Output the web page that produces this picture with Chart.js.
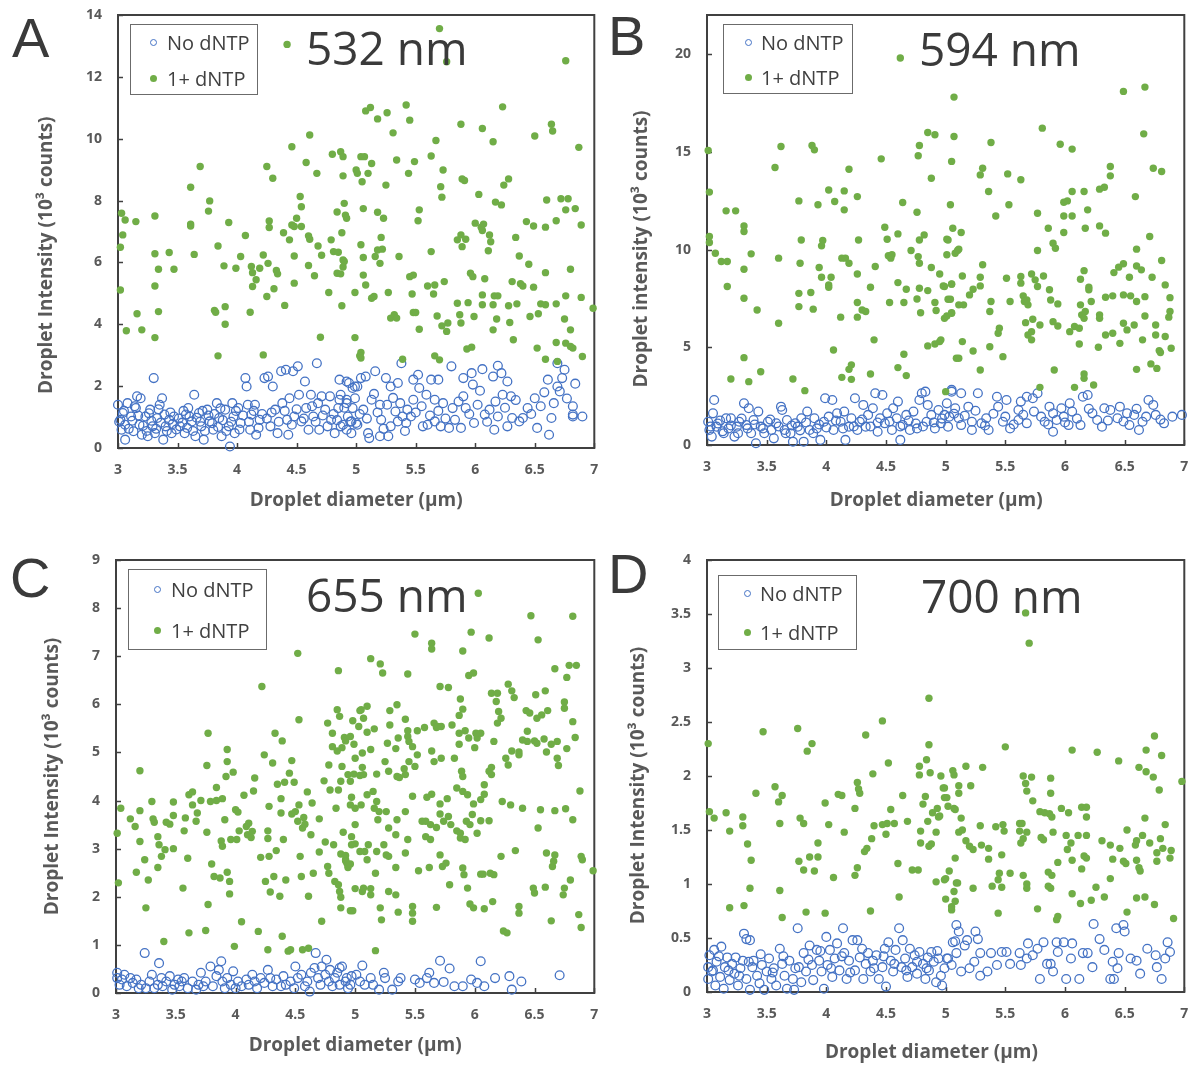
<!DOCTYPE html>
<html>
<head>
<meta charset="utf-8">
<script src="https://cdn.jsdelivr.net/npm/chart.js@4.4.1/dist/chart.umd.min.js"></script>
<style>
  body { margin: 0; background: #fff; }
  #wrap { position: relative; width: 1198px; height: 1068px; background: #fff; overflow: hidden; }
  canvas { position: absolute; }
  .letter { position: absolute; font-family: 'Liberation Sans', Arial, sans-serif; font-size: 56px; line-height: 56px; color: #3a3a3a; }
  .nm { position: absolute; font-family: 'Open Sans', sans-serif; font-size: 46px; line-height: 46px; color: #3a3a3a; white-space: nowrap; }
  .legend { position: absolute; border: 1.5px solid #6b6b6b; box-sizing: border-box; }
  .row { position: absolute; font-family: 'Open Sans', sans-serif; font-size: 20px; line-height: 20px; color: #404040; white-space: nowrap; }
  .mk { position: absolute; border-radius: 50%; box-sizing: border-box; }
  .mk.blue { width: 7px; height: 7px; border: 1.2px solid #4472C4; }
  .mk.green { width: 7px; height: 7px; background: #70AD47; }
</style>
</head>
<body>
<div id="wrap">
  <canvas id="cA" width="600" height="520" style="left:0;top:0"></canvas>
  <canvas id="cB" width="600" height="520" style="left:590px;top:0"></canvas>
  <canvas id="cC" width="600" height="520" style="left:0;top:545px"></canvas>
  <canvas id="cD" width="600" height="520" style="left:590px;top:545px"></canvas>

  <div class="letter" style="left:12px;top:10px">A</div>
  <div class="letter" style="left:608px;top:8px">B</div>
  <div class="letter" style="left:10px;top:550px">C</div>
  <div class="letter" style="left:608px;top:546px">D</div>

  <div class="nm" style="left:306px;top:24px">532 nm</div>
  <div class="nm" style="left:919px;top:25px">594 nm</div>
  <div class="nm" style="left:306px;top:571px">655 nm</div>
  <div class="nm" style="left:921px;top:572px">700 nm</div>

  <div class="legend" style="left:130px;top:24px;width:128px;height:71px">
    <div class="mk blue" style="left:19px;top:14px"></div><div class="row" style="left:36px;top:8px">No dNTP</div>
    <div class="mk green" style="left:19px;top:50px"></div><div class="row" style="left:36px;top:44px">1+ dNTP</div>
  </div>
  <div class="legend" style="left:723px;top:24px;width:130px;height:70px">
    <div class="mk blue" style="left:21px;top:14px"></div><div class="row" style="left:37px;top:8px">No dNTP</div>
    <div class="mk green" style="left:21px;top:49px"></div><div class="row" style="left:37px;top:43px">1+ dNTP</div>
  </div>
  <div class="legend" style="left:128px;top:569px;width:139px;height:81px">
    <div class="mk blue" style="left:25px;top:16px"></div><div class="row" style="left:42px;top:10px">No dNTP</div>
    <div class="mk green" style="left:25px;top:57px"></div><div class="row" style="left:42px;top:51px">1+ dNTP</div>
  </div>
  <div class="legend" style="left:718px;top:575px;width:139px;height:75px">
    <div class="mk blue" style="left:25px;top:14px"></div><div class="row" style="left:41px;top:8px">No dNTP</div>
    <div class="mk green" style="left:25px;top:53px"></div><div class="row" style="left:41px;top:47px">1+ dNTP</div>
  </div>
</div>

<script>
// ---- data: [diameter (um), intensity (10^3 counts)] ----

const greenA = [[3.03,7.59],[3.04,6.89],[3.06,7.37],[3.02,6.49],[3.02,5.11],[3.07,3.79],[3.15,7.32],[3.16,4.34],[3.2,3.82],[3.31,7.5],[3.31,6.28],[3.34,5.78],[3.31,5.24],[3.34,4.41],[3.31,3.57],[3.43,6.32],[3.47,5.78],[3.61,8.43],[3.61,7.24],[3.61,7.18],[3.64,6.26],[3.69,9.1],[3.77,7.99],[3.76,7.66],[3.84,6.53],[3.81,4.45],[3.82,4.39],[3.84,2.98],[3.89,5.89],[3.9,4.57],[3.9,4.0],[3.93,7.29],[3.99,5.81],[4.03,6.19],[4.07,6.87],[4.11,4.39],[4.12,5.87],[4.13,5.67],[4.13,5.22],[4.16,5.44],[4.19,5.81],[4.22,6.24],[4.22,3.01],[4.25,9.1],[4.25,4.9],[4.26,5.97],[4.27,7.34],[4.27,7.13],[4.3,8.72],[4.31,5.15],[4.33,5.74],[4.34,5.63],[4.39,6.96],[4.4,4.61],[4.44,6.73],[4.46,9.74],[4.46,7.21],[4.48,7.16],[4.48,6.21],[4.48,5.33],[4.5,7.43],[4.53,8.13],[4.54,7.8],[4.54,7.16],[4.58,9.23],[4.61,10.12],[4.6,6.86],[4.61,6.75],[4.6,5.9],[4.65,5.57],[4.67,8.88],[4.68,6.53],[4.7,3.58],[4.71,6.23],[4.77,5.03],[4.79,6.73],[4.8,9.5],[4.81,6.35],[4.84,7.63],[4.85,6.33],[4.84,5.65],[4.87,9.58],[4.88,6.96],[4.88,4.6],[4.89,9.42],[4.89,8.8],[4.87,5.63],[4.89,5.85],[4.91,7.53],[4.92,7.43],[4.9,6.03],[4.99,3.57],[4.99,5.03],[5.0,8.99],[4.42,13.05],
  [5.7,13.56],[5.76,12.49],[6.76,12.52],[5.08,10.9],[5.12,11.01],[5.18,10.64],[5.26,10.84],[5.42,11.09],[5.45,10.6],[5.31,10.19],[6.23,11.03],[5.88,10.47],[6.06,10.33],[6.15,9.9],[5.67,9.94],[6.5,10.09],[6.64,10.47],[6.65,10.25],[6.87,9.72],[5.04,9.42],[5.07,9.42],[5.13,9.2],[5.34,9.31],[5.49,9.26],[5.44,8.88],[5.63,9.44],[5.01,8.88],[5.05,8.61],[5.1,8.88],[5.25,8.5],[5.73,8.99],[5.71,8.45],[5.72,8.11],[5.89,8.7],[5.91,8.65],[6.03,8.2],[6.24,8.5],[6.28,8.7],[6.17,7.95],[6.22,7.86],[6.6,8.02],[6.72,8.06],[6.78,8.06],[6.76,7.7],[6.84,7.74],[6.89,7.21],[4.9,7.91],[5.06,7.74],[5.18,7.62],[5.23,7.43],[5.53,7.7],[5.52,7.35],[6.0,7.27],[6.05,7.14],[6.07,7.24],[6.06,7.03],[5.85,6.73],[5.88,6.89],[5.92,6.75],[5.89,6.51],[6.12,6.89],[6.13,6.67],[6.11,6.38],[6.43,7.32],[6.49,7.18],[6.59,7.14],[6.68,7.35],[6.34,6.81],[5.04,6.57],[5.21,6.81],[5.18,6.4],[5.16,6.19],[5.22,6.43],[5.2,5.97],[5.36,6.19],[5.63,6.35],[4.89,6.08],[5.06,6.16],[5.06,5.59],[5.08,5.27],[6.37,6.21],[6.45,5.94],[6.59,5.67],[6.8,5.78],[5.96,5.65],[5.98,5.54],[6.08,5.47],[6.31,5.38],[6.38,5.31],[6.4,5.24],[6.49,5.2],[5.45,5.54],[5.48,5.59],[5.6,5.24],[5.66,5.27],[5.74,5.38],[5.65,4.98],[5.27,5.03],[5.47,4.98],[5.13,4.84],[5.15,4.9],[5.85,4.68],[5.94,4.7],[6.06,4.95],[6.06,4.63],[6.16,4.92],[6.19,4.92],[6.15,4.63],[6.28,4.6],[6.35,4.66],[6.55,4.66],[6.59,4.63],[6.68,4.66],[6.76,4.92],[6.89,4.87],[6.99,4.52],[5.29,4.2],[5.32,4.31],[5.34,4.2],[5.48,4.38],[5.5,4.38],[5.68,4.27],[5.87,4.31],[5.99,4.25],[6.18,4.17],[6.29,4.06],[6.46,4.25],[6.53,4.34],[6.75,4.17],[5.53,3.84],[5.72,3.95],[5.77,4.04],[5.76,3.77],[5.88,4.04],[6.15,3.82],[6.8,3.82],[6.32,3.5],[6.68,3.41],[6.76,3.39],[6.8,3.28],[6.82,3.23],[5.93,3.2],[5.97,3.26],[6.52,3.23],[6.9,2.96],[5.04,3.09],[5.03,2.98],[5.04,2.91],[5.39,2.87],[5.66,2.98],[5.7,2.85],[6.59,2.87],[6.69,2.8]];

const blueA = [[3.0,1.4],[3.02,0.91],[3.03,0.59],[3.04,1.13],[3.06,0.27],[3.06,0.75],[3.08,1.45],[3.11,1.02],[3.13,0.54],[3.15,1.29],[3.16,1.67],[3.18,0.75],[3.19,1.61],[3.2,0.43],[3.23,1.02],[3.25,0.38],[3.27,1.24],[3.29,0.7],[3.3,2.26],[3.31,0.48],[3.33,0.97],[3.35,1.4],[3.37,1.61],[3.38,0.27],[3.4,0.7],[3.43,0.91],[3.45,0.48],[3.47,1.02],[3.52,0.7],[3.56,0.48],[3.57,1.08],[3.59,1.29],[3.62,0.86],[3.64,1.72],[3.65,0.38],[3.68,1.13],[3.7,0.7],[3.72,0.27],[3.75,1.24],[3.77,0.86],[3.8,0.59],[3.83,1.45],[3.85,0.97],[3.87,0.38],[3.9,1.24],[3.93,0.7],[3.94,0.05],[3.96,1.45],[3.97,1.02],[3.98,0.48],[4.01,1.29],[4.03,0.81],[4.07,2.26],[4.08,1.99],[4.09,1.4],[4.11,0.59],[4.12,1.08],[4.15,1.4],[4.16,0.43],[4.19,0.91],[4.23,2.26],[4.26,2.31],[4.28,0.7],[4.3,1.99],[4.32,1.24],[4.34,0.48],[4.37,2.48],[4.38,1.45],[4.41,2.53],[4.42,0.91],[4.43,0.43],[4.44,1.61],[4.47,2.48],[4.48,1.02],[4.51,2.64],[4.52,1.72],[4.54,0.86],[4.57,2.15],[4.58,1.29],[4.6,0.59],[4.62,1.72],[4.64,1.02],[4.67,2.74],[4.68,1.45],[4.69,0.59],[4.71,1.67],[4.74,1.24],[4.78,1.67],[4.79,0.91],[4.82,0.48],[4.85,1.29],[4.86,2.21],[4.87,1.72],[4.89,0.75],[4.92,1.56],[4.93,1.02],[4.94,2.1],[4.96,0.48],[4.97,1.29],[4.99,1.99],[5.0,0.81],
  [3.01,0.85],[3.05,1.2],[3.09,0.62],[3.12,0.88],[3.14,1.35],[3.17,1.05],[3.21,0.72],[3.24,0.55],[3.26,1.12],[3.28,0.88],[3.32,0.62],[3.34,1.25],[3.36,0.82],[3.39,1.08],[3.41,0.55],[3.44,1.15],[3.46,0.78],[3.49,0.6],[3.51,0.95],[3.54,0.82],[3.55,1.2],[3.58,0.65],[3.6,1.02],[3.63,0.55],[3.66,0.98],[3.69,0.85],[3.71,1.2],[3.73,0.55],[3.76,1.05],[3.79,0.8],[3.81,1.1],[3.84,0.68],[3.86,1.28],[3.88,0.9],[3.91,0.55],[3.95,0.85],[3.99,1.2],[4.02,0.6],[4.05,1.05],[4.1,0.85],[4.14,1.2],[4.18,0.65],[4.21,1.1],[4.25,0.95],[4.29,1.15],[4.35,0.85],[4.4,1.2],[4.46,0.75],[4.5,1.25],[4.56,0.95],[4.63,1.35],[4.66,0.85],[4.72,1.05],[4.76,0.7],[4.81,1.1],[4.84,0.9],[4.9,1.3],[4.95,0.85],
  [4.92,2.15],[4.97,1.94],[5.01,1.99],[5.04,2.26],[5.08,2.31],[5.16,2.48],[5.25,2.26],[5.29,1.99],[5.35,2.1],[5.38,2.74],[5.52,2.37],[5.48,2.21],[5.53,1.94],[5.63,2.21],[5.69,2.21],[5.8,2.64],[5.9,2.26],[5.97,2.42],[5.98,2.05],[6.06,2.55],[6.15,2.31],[6.19,2.66],[6.22,2.42],[6.27,2.15],[6.23,1.72],[6.3,1.67],[6.61,2.21],[6.69,2.74],[6.75,2.53],[6.73,2.26],[6.84,2.08],[6.69,1.99],[6.71,1.83],
  [4.86,1.56],[4.92,1.45],[4.99,1.61],[5.06,1.24],[5.13,1.56],[5.2,1.4],[5.26,1.4],[5.33,1.18],[5.39,1.02],[5.43,1.24],[5.48,1.56],[5.59,1.72],[5.66,1.56],[5.73,1.45],[5.81,1.29],[5.9,1.67],[5.92,1.29],[6.02,1.4],[6.08,1.08],[6.12,1.24],[6.19,1.02],[6.31,0.97],[6.4,0.97],[6.44,1.29],[6.5,1.61],[6.55,1.35],[6.64,0.97],[6.82,1.35],[6.82,1.02],[6.9,1.02],
  [4.87,0.7],[4.92,0.59],[4.96,0.86],[5.01,0.75],[5.1,0.48],[5.11,0.32],[5.2,0.38],[5.27,0.38],[5.29,0.7],[5.42,0.81],[5.46,1.02],[5.56,0.7],[5.6,0.75],[5.66,0.86],[5.71,0.7],[5.78,0.65],[5.88,0.65],[5.99,0.81],[6.16,0.59],[6.27,0.7],[6.37,0.86],[6.52,0.65],[6.62,0.43],[6.82,1.08],[5.21,0.91],[5.35,0.86],[5.83,0.91],
  [5.03,1.1],[5.09,0.95],[5.15,1.75],[5.18,1.15],[5.23,0.62],[5.31,1.62],[5.37,1.45],[5.41,0.55],[5.5,1.15],[5.55,1.35],[5.62,1.05],[5.69,1.2],[5.75,0.95],[5.86,1.5],[5.95,1.1],[6.04,1.85],[6.1,0.85],[6.17,1.5],[6.25,1.3],[6.34,1.55],[6.47,1.1],[6.58,1.8],[6.66,1.45],[6.77,1.6]];

const greenB = [[3.01,15.07],[3.02,12.94],[3.02,10.67],[3.02,10.36],[3.07,9.81],[3.12,9.39],[3.17,9.39],[3.16,11.98],[3.17,8.11],[3.24,11.98],[3.2,3.38],[3.31,11.21],[3.31,10.92],[3.31,8.99],[3.31,7.51],[3.31,4.47],[3.35,3.24],[3.37,9.78],[3.42,6.91],[3.45,3.75],[3.57,14.2],[3.62,15.27],[3.6,9.56],[3.6,6.23],[3.72,3.38],[3.77,12.49],[3.79,10.49],[3.78,9.3],[3.77,7.76],[3.77,7.08],[3.82,2.78],[3.87,7.8],[3.88,15.32],[3.9,15.1],[3.89,6.95],[3.93,12.29],[3.94,9.08],[3.96,8.58],[3.97,10.46],[3.96,10.19],[4.02,8.19],[4.02,8.07],[4.02,13.05],[4.04,8.58],[4.07,12.46],[4.06,4.86],[4.12,6.54],[4.13,3.46],[4.15,12.03],[4.15,13.0],[4.13,9.56],[4.16,9.56],[4.19,9.3],[4.19,14.11],[4.19,3.87],[4.21,4.1],[4.21,3.36],[4.26,12.71],[4.27,10.49],[4.26,8.75],[4.26,7.29],[4.26,6.54],[4.3,6.91],[4.33,6.83],[4.37,8.07],[4.37,3.63],[4.4,5.38],[4.41,9.13],[4.46,14.64],[4.49,11.14],[4.51,10.53],[4.52,9.68],[4.54,9.56],[4.53,7.29],[4.55,9.73],[4.6,10.8],[4.6,8.31],[4.6,3.96],[4.62,19.8],[4.64,12.41],[4.65,7.29],[4.65,4.64],[4.67,3.55],[4.67,7.97],[4.71,9.95],[4.76,11.91],[4.76,7.47],[4.77,9.64],[4.78,10.49],[4.77,14.8],[4.78,15.32],[4.78,9.3],[4.78,8.02],[4.79,6.77],[4.82,10.75],[4.85,5.07],[4.85,7.9],[4.85,15.99],[4.88,9.08],[4.88,13.65],[4.91,7.29],[4.91,5.17],[4.91,15.87],[4.92,6.88],[4.95,5.29],[4.95,8.75],[4.99,6.48],[4.99,8.11],[5.01,6.6],[5.0,2.73],[5.01,10.53],[5.01,9.73],[5.02,7.46],[5.04,12.29],[5.05,8.23],[5.05,6.74],[5.05,14.51],[5.06,11.09],[5.07,15.78],[5.07,17.8],[5.08,9.81],[5.09,4.44],
  [5.13,10.87],[5.1,9.95],[5.11,10.02],[5.02,10.49],[4.98,8.14],[5.05,8.24],[5.14,8.65],[5.04,7.46],[5.11,7.17],[5.15,7.17],[5.05,6.77],[4.96,5.38],[5.11,4.44],[5.23,4.81],[5.29,3.84],
  [5.29,13.82],[5.31,14.16],[5.38,15.48],[5.36,12.97],[5.42,11.72],[5.52,13.87],[5.53,12.29],[5.63,13.57],[5.81,16.21],[5.96,15.39],[6.06,15.14],[6.49,18.09],[6.67,18.31],[6.66,15.92],[6.38,14.25],[6.38,13.77],[6.74,14.16],[6.81,13.99],[6.29,13.09],[6.33,13.19],[5.99,12.42],[6.02,12.49],[6.06,12.97],[6.16,12.97],[6.59,12.71],[6.19,12.03],[5.99,11.72],[6.06,11.72],[5.77,11.86],[5.86,11.09],[5.99,10.87],[6.17,11.09],[6.29,11.21],[6.34,10.84],[6.71,10.67],[5.9,10.32],[5.92,10.07],[5.77,9.95],[6.6,10.02],[6.81,9.44],[5.31,9.22],[6.41,8.82],[6.45,9.1],[6.49,9.27],[6.6,9.16],[6.64,8.96],[6.84,8.19],[6.73,8.58],[6.54,8.58],[6.16,8.92],[6.13,8.48],[6.2,8.07],[6.2,7.94],[5.72,8.75],[5.82,8.65],[5.63,8.62],[5.63,8.28],[5.51,8.53],[5.75,8.45],[5.77,8.11],[5.29,8.58],[5.29,8.14],[5.23,7.97],[5.2,7.68],[5.54,7.34],[5.65,7.63],[5.68,7.42],[5.69,7.17],[5.66,7.34],[5.87,7.94],[5.88,7.42],[5.94,7.22],[6.13,7.17],[6.14,6.66],[6.17,6.83],[6.16,6.48],[6.22,7.34],[6.29,6.66],[6.29,6.48],[6.34,7.56],[6.4,7.63],[6.49,7.68],[6.55,7.63],[6.6,7.34],[6.67,7.59],[6.88,7.54],[6.88,6.83],[6.87,6.54],[6.67,6.6],[6.76,6.14],[5.37,6.83],[5.38,7.34],[5.67,6.26],[5.73,6.43],[5.72,5.8],[5.69,5.63],[5.72,5.38],[5.79,6.14],[5.9,6.31],[5.94,6.09],[6.04,5.8],[6.08,6.06],[6.12,5.97],[6.12,5.17],[6.34,5.63],[6.4,5.72],[6.49,6.23],[6.52,5.89],[6.58,6.14],[6.65,5.38],[6.46,5.2],[6.28,5.0],[5.14,5.29],[5.45,5.97],[5.44,5.72],[5.37,5.03],[5.48,4.52],[5.91,3.84],[6.16,3.63],[6.16,3.41],[6.24,3.07],[6.08,2.95],[5.79,2.95],[6.6,3.87],[6.72,4.15],[6.77,3.92],[6.79,4.83],[6.8,4.73],[6.89,4.95],[6.76,5.63],[6.84,5.55]];

const blueB = [[3.01,1.19],[3.02,0.77],[3.04,0.43],[3.05,1.62],[3.06,2.3],[3.08,0.94],[3.11,1.25],[3.14,0.6],[3.16,1.37],[3.18,0.85],[3.2,1.37],[3.23,0.43],[3.25,0.94],[3.27,1.19],[3.31,2.13],[3.33,1.02],[3.35,1.88],[3.37,0.6],[3.39,1.28],[3.41,0.09],[3.43,1.71],[3.45,0.94],[3.48,0.6],[3.51,1.19],[3.54,0.77],[3.56,0.34],[3.58,1.11],[3.62,1.96],[3.63,1.79],[3.65,0.77],[3.67,1.28],[3.7,0.6],[3.72,0.17],[3.74,1.11],[3.76,0.94],[3.79,1.37],[3.81,0.17],[3.84,1.71],[3.86,0.77],[3.9,1.37],[3.92,0.85],[3.95,0.26],[3.98,1.19],[3.99,2.39],[4.02,1.45],[4.05,2.3],[4.06,0.77],[4.09,1.62],[4.12,1.19],[4.15,1.71],[4.16,0.26],[4.19,0.94],[4.21,1.37],[4.24,2.39],[4.26,0.77],[4.28,1.19],[4.31,2.05],[4.33,0.94],[4.35,1.54],[4.39,1.88],[4.41,2.65],[4.43,0.68],[4.45,1.37],[4.47,2.56],[4.49,1.11],[4.51,1.62],[4.55,0.77],[4.56,1.88],[4.59,1.37],[4.6,2.22],[4.62,0.26],[4.64,1.02],[4.67,1.54],[4.7,0.77],[4.73,1.71],[4.76,0.85],[4.78,2.3],[4.8,2.65],[4.83,2.73],[4.84,1.19],[4.85,2.05],[4.88,1.54],[4.91,0.85],[4.94,1.79],[4.96,1.11],[5.01,2.13],[5.05,2.73],[5.03,1.45],
  [3.03,0.95],[3.09,1.1],[3.13,0.7],[3.2,1.0],[3.26,0.6],[3.29,1.35],[3.34,0.85],[3.4,1.05],[3.47,0.85],[3.53,1.3],[3.6,0.95],[3.66,0.6],[3.71,1.0],[3.78,0.75],[3.83,1.15],[3.89,0.6],[3.94,1.05],[4.0,0.9],[4.08,1.25],[4.14,0.85],[4.23,0.95],[4.3,1.3],[4.37,0.95],[4.43,1.15],[4.53,1.2],[4.62,0.95],[4.69,1.25],[4.75,1.1],[4.81,0.95],[4.9,1.15],[4.97,1.35],
  [5.05,2.82],[5.13,2.65],[5.27,2.65],[5.19,1.96],[5.08,1.88],[4.99,1.54],[5.11,1.37],[5.02,0.94],[5.13,1.02],[5.22,1.19],[5.22,0.77],[5.3,1.11],[5.34,1.37],[5.36,0.77],[5.43,2.47],[5.44,1.96],[5.48,1.19],[5.51,2.3],[5.54,0.85],[5.61,1.79],[5.63,2.22],[5.68,2.47],[5.73,2.39],[5.77,2.65],[5.74,1.71],[5.68,1.11],[5.61,1.28],[5.83,1.19],[5.87,1.96],[5.9,1.62],[5.9,0.68],[5.93,1.28],[5.97,1.88],[5.99,1.45],[6.04,2.13],[6.03,1.02],[6.06,1.71],[6.13,1.02],[6.15,2.47],[6.19,2.56],[6.23,1.62],[6.27,1.28],[6.31,0.94],[6.33,1.88],[6.38,1.79],[6.44,1.37],[6.46,1.96],[6.52,1.62],[6.54,1.02],[6.58,1.54],[6.62,0.77],[6.65,1.19],[6.7,2.3],[6.74,2.05],[6.76,1.54],[6.83,1.11],[6.9,1.45],[6.98,1.54],
  [5.07,1.6],[5.16,1.5],[5.25,1.75],[5.33,1.0],[5.4,1.6],[5.5,1.45],[5.57,1.05],[5.65,1.55],[5.8,1.45],[5.86,1.05],[6.0,1.15],[6.1,1.35],[6.2,1.85],[6.36,1.25],[6.49,1.2],[6.6,1.85],[6.68,1.45],[6.8,1.3]];

const greenC = [[3.01,3.32],[3.02,2.29],[3.04,3.84],[3.12,3.62],[3.16,3.46],[3.17,2.51],[3.2,4.62],[3.2,3.79],[3.2,3.15],[3.24,2.77],[3.25,1.77],[3.27,2.35],[3.3,3.98],[3.31,3.62],[3.32,3.55],[3.35,3.25],[3.35,2.61],[3.36,3.08],[3.38,2.84],[3.41,2.98],[3.4,1.07],[3.42,3.55],[3.45,3.51],[3.48,3.97],[3.48,3.0],[3.48,3.69],[3.56,2.18],[3.57,3.37],[3.58,3.64],[3.6,2.8],[3.61,1.25],[3.61,4.12],[3.64,4.18],[3.64,3.91],[3.67,3.57],[3.68,3.74],[3.71,4.0],[3.76,3.34],[3.76,4.73],[3.75,1.3],[3.77,5.4],[3.77,1.84],[3.79,3.98],[3.8,2.68],[3.82,2.42],[3.84,4.0],[3.84,4.27],[3.87,2.39],[3.88,3.16],[3.89,3.05],[3.89,4.04],[3.91,3.6],[3.92,4.5],[3.93,5.06],[3.93,4.81],[3.93,2.51],[3.95,2.32],[3.95,2.06],[3.96,3.19],[3.98,4.59],[3.99,0.97],[4.0,3.81],[4.01,3.19],[4.02,3.76],[4.03,3.37],[4.05,1.48],[4.07,4.11],[4.09,3.46],[4.1,3.29],[4.11,3.53],[4.13,3.23],[4.14,3.36],[4.15,4.2],[4.16,4.47],[4.19,1.28],[4.21,2.82],[4.22,6.37],[4.24,4.95],[4.25,2.32],[4.27,0.9],[4.27,3.37],[4.27,3.21],[4.28,2.84],[4.28,3.88],[4.29,2.1],[4.31,4.78],[4.32,2.42],[4.33,5.4],[4.34,2.96],[4.35,4.34],[4.38,4.04],[4.38,3.74],[4.37,2.01],[4.39,1.18],[4.39,5.24],[4.4,3.19],[4.41,4.38],[4.42,2.35],[4.44,0.87],[4.45,4.57],[4.46,0.9],[4.47,4.83],[4.47,3.72],[4.49,4.38],[4.5,3.77],[4.52,3.57],[4.52,7.06],[4.53,5.68],[4.53,3.91],[4.54,2.84],[4.55,2.42],[4.56,0.9],[4.56,3.43],[4.57,3.65],[4.58,3.51],[4.6,4.18],[4.61,2.01],[4.61,0.93],[4.63,3.29],[4.64,3.95],[4.65,2.49],[4.7,3.62],[4.7,2.93],[4.72,1.49],[4.74,4.41],[4.75,3.14],[4.77,5.61],[4.77,2.63],[4.78,4.74],[4.78,2.49],[4.79,4.22],[4.81,5.4],[4.81,5.12],[4.82,3.08],[4.83,2.32],[4.84,3.84],[4.85,5.89],[4.85,5.03],[4.86,2.25],[4.86,6.7],[4.86,4.22],[4.87,5.75],[4.88,4.4],[4.88,1.99],[4.88,2.89],[4.88,1.77],[4.89,5.1],[4.89,4.71],[4.9,3.34],[4.91,5.31],[4.92,2.77],[4.92,5.24],[4.93,2.7],[4.94,2.61],[4.96,4.4],[4.97,4.07],[4.98,1.71],[4.98,5.66],[4.99,5.17],[5.0,3.1],[5.0,3.5],[5.0,2.17],
  [6.03,8.31],[6.47,7.84],[6.82,7.83],[6.53,7.34],[5.5,7.46],[5.64,7.27],[5.64,7.15],[5.97,7.5],[5.9,7.11],[6.12,7.38],[5.13,6.95],[5.21,6.84],[5.23,6.65],[5.44,6.63],[5.95,6.6],[5.99,6.65],[6.67,6.74],[6.79,6.81],[6.85,6.81],[6.77,6.56],[5.71,6.37],[5.78,6.35],[6.14,6.23],[6.19,6.23],[6.28,6.42],[6.31,6.28],[6.33,6.14],[6.51,6.2],[6.59,6.28],[5.88,6.11],[5.9,5.9],[5.87,5.77],[6.18,6.06],[6.2,5.85],[6.22,5.71],[6.19,5.61],[6.43,5.87],[6.46,5.82],[6.56,5.78],[6.52,5.71],[6.61,5.87],[6.75,5.92],[6.75,6.05],[6.82,5.64],[5.04,5.87],[5.07,5.71],[5.1,5.96],[5.05,5.89],[5.29,5.87],[5.35,5.99],[5.42,5.69],[5.66,5.61],[5.68,5.52],[5.69,5.54],[4.96,5.33],[5.03,5.54],[5.1,5.42],[5.16,5.49],[5.29,5.57],[5.36,5.3],[5.44,5.33],[5.44,5.45],[5.52,5.45],[5.58,5.52],[5.72,5.54],[5.81,5.57],[5.87,5.4],[5.92,5.45],[5.95,5.3],[6.02,5.3],[6.05,5.4],[6.01,5.4],[6.16,5.23],[6.0,5.1],[5.87,5.17],[5.45,5.23],[5.48,5.12],[5.52,4.95],[5.27,5.19],[5.34,5.08],[5.25,4.81],[5.0,4.88],[5.06,4.99],[5.13,5.06],[5.45,4.81],[5.5,4.71],[5.64,5.03],[5.66,4.81],[5.72,4.88],[5.83,4.88],[6.44,5.23],[6.44,5.44],[6.4,5.26],[6.5,5.24],[6.52,5.19],[6.58,5.28],[6.64,5.17],[6.69,5.23],[6.77,5.08],[6.84,5.31],[6.6,5.01],[6.69,4.88],[6.7,4.73],[6.26,4.88],[6.28,4.74],[6.37,4.95],[6.31,5.03],[6.37,5.01],[4.94,4.54],[4.99,4.55],[5.04,4.52],[5.06,4.69],[5.07,4.54],[5.18,4.55],[5.28,4.61],[5.35,4.5],[5.37,4.48],[5.41,4.66],[5.42,4.54],[5.89,4.61],[5.9,4.5],[6.12,4.61],[6.14,4.69],[6.14,4.54],[5.85,4.26],[5.9,4.19],[5.94,4.12],[5.77,4.04],[5.71,3.93],[5.64,4.13],[5.6,4.07],[6.05,4.02],[5.99,3.93],[6.08,4.33],[6.08,4.13],[6.23,3.98],[6.3,3.91],[6.4,3.84],[6.55,3.81],[6.67,3.79],[6.76,3.83],[6.82,3.6],[6.53,3.43],[6.88,4.2],[4.96,3.91],[5.0,3.84],[5.05,3.91],[5.1,4.12],[5.15,4.19],[5.18,3.98],[5.16,3.84],[5.2,3.77],[5.19,3.6],[5.26,3.77],[5.28,3.43],[5.35,3.6],[5.42,3.77],[5.48,4.09],[5.56,3.57],[5.59,3.57],[5.63,3.5],[5.68,3.44],[5.71,3.72],[5.74,3.57],[5.78,3.67],[5.8,3.5],[5.85,3.37],[5.88,3.32],[5.88,3.22],[5.92,3.19],[5.93,3.57],[5.98,3.71],[5.96,3.5],[6.05,3.58],[6.12,3.58],[6.02,3.32],[5.59,3.25],[5.63,3.19],[5.34,3.29],[5.44,3.19],[5.24,3.08],[5.26,2.87],[5.18,2.94],[5.11,3.08],[5.1,2.77],[5.08,2.94],[5.04,2.94],[4.97,3.25],[4.97,3.08],[4.92,2.86],[4.92,2.75],[4.94,2.65],[4.96,2.68],[4.87,2.11],[5.06,2.11],[5.07,2.18],[5.13,2.04],[5.13,2.17],[5.17,2.49],[5.28,2.84],[5.28,2.11],[5.34,2.04],[5.34,2.61],[5.42,2.91],[5.53,2.54],[5.62,2.61],[5.71,2.87],[5.73,2.63],[5.76,2.7],[5.79,2.25],[5.9,2.6],[5.91,2.46],[5.94,2.18],[6.05,2.47],[6.07,2.47],[6.13,2.49],[6.16,2.46],[6.22,2.84],[6.34,2.96],[6.6,2.91],[6.67,2.87],[6.65,2.63],[6.66,2.74],[6.89,2.84],[6.9,2.77],[6.99,2.54],[6.49,2.18],[6.5,2.08],[6.59,2.2],[6.75,2.18],[6.74,2.04],[6.8,2.35],[5.96,1.85],[5.99,1.77],[6.08,1.75],[6.15,1.9],[6.37,1.8],[6.37,1.66],[5.48,1.8],[5.48,1.66],[5.48,1.49],[5.68,1.78],[5.36,1.68],[5.21,1.77],[5.22,1.52],[4.96,1.71],[6.64,1.5],[6.87,1.63],[6.89,1.36],[6.24,1.29],[6.27,1.25],[5.17,0.88]];

const blueC = [[3.01,0.31],[3.01,0.42],[3.03,0.17],[3.05,0.28],[3.07,0.38],[3.09,0.14],[3.12,0.31],[3.14,0.21],[3.17,0.28],[3.19,0.1],[3.21,0.17],[3.24,0.83],[3.25,0.1],[3.28,0.24],[3.3,0.38],[3.32,0.1],[3.35,0.17],[3.36,0.62],[3.38,0.31],[3.39,0.14],[3.42,0.24],[3.45,0.35],[3.47,0.07],[3.49,0.17],[3.52,0.28],[3.53,0.14],[3.55,0.24],[3.57,0.31],[3.6,0.1],[3.64,0.24],[3.67,0.07],[3.69,0.17],[3.71,0.42],[3.73,0.14],[3.75,0.24],[3.79,0.55],[3.81,0.14],[3.84,0.35],[3.86,0.48],[3.88,0.66],[3.89,0.24],[3.91,0.1],[3.93,0.31],[3.96,0.17],[3.98,0.45],[4.0,0.1],[4.02,0.24],[4.05,0.14],[4.09,0.28],[4.11,0.17],[4.14,0.38],[4.16,0.24],[4.18,0.1],[4.21,0.31],[4.24,0.21],[4.27,0.48],[4.29,0.31],[4.31,0.14],[4.34,0.28],[4.38,0.14],[4.4,0.35],[4.42,0.17],[4.46,0.24],[4.49,0.1],[4.5,0.55],[4.52,0.31],[4.55,0.38],[4.58,0.14],[4.6,0.24],[4.62,0.03],[4.63,0.42],[4.66,0.52],[4.67,0.83],[4.69,0.31],[4.71,0.17],[4.72,0.55],[4.75,0.38],[4.76,0.69],[4.78,0.24],[4.79,0.48],[4.81,0.14],[4.83,0.31],[4.85,0.42],[4.87,0.17],[4.89,0.55],[4.92,0.24],[4.94,0.1],[4.97,0.35],
  [4.87,0.52],[4.93,0.31],[4.96,0.17],[5.01,0.38],[5.04,0.24],[5.06,0.57],[5.08,0.17],[5.13,0.31],[5.15,0.17],[5.2,0.07],[5.24,0.42],[5.25,0.31],[5.31,0.07],[5.36,0.24],[5.38,0.31],[5.5,0.28],[5.54,0.21],[5.6,0.31],[5.62,0.42],[5.66,0.21],[5.71,0.67],[5.74,0.23],[5.79,0.51],[5.83,0.14],[5.9,0.14],[5.97,0.28],[6.02,0.21],[6.05,0.66],[6.08,0.14],[6.17,0.31],[6.29,0.35],[6.31,0.07],[6.39,0.24],[6.71,0.37]];

const greenD = [[3.01,2.3],[3.02,1.67],[3.06,1.61],[3.16,1.66],[3.19,1.49],[3.19,0.78],[3.3,1.62],[3.3,1.54],[3.31,0.8],[3.34,1.37],[3.36,0.96],[3.37,1.22],[3.41,1.84],[3.47,2.41],[3.57,1.9],[3.6,1.76],[3.61,1.56],[3.61,0.94],[3.63,1.82],[3.63,0.69],[3.76,2.44],[3.77,1.21],[3.78,1.61],[3.81,1.56],[3.81,1.13],[3.83,0.74],[3.84,2.23],[3.88,2.3],[3.86,1.25],[3.9,1.12],[3.93,1.38],[3.93,1.25],[3.99,0.73],[3.99,1.75],[4.02,1.55],[4.06,1.06],[4.1,1.83],[4.13,1.82],[4.15,1.48],[4.24,1.7],[4.24,1.08],[4.26,1.15],[4.26,1.94],[4.27,1.88],[4.28,1.84],[4.33,2.38],[4.32,1.3],[4.34,1.33],[4.37,0.75],[4.38,1.42],[4.39,2.02],[4.4,1.54],[4.47,2.51],[4.47,1.55],[4.5,1.46],[4.51,1.56],[4.52,2.12],[4.54,1.69],[4.57,1.56],[4.6,1.19],[4.61,0.88],[4.64,1.82],[4.68,1.58],[4.72,1.13],[4.77,1.13],[4.78,2.09],[4.78,2.01],[4.79,1.49],[4.79,1.38],[4.81,1.74],[4.83,1.81],[4.84,2.15],[4.85,1.58],[4.86,2.29],[4.86,2.72],[4.86,1.35],[4.87,2.03],[4.88,1.37],[4.89,1.66],[4.92,1.48],[4.92,1.02],[4.93,1.7],[4.94,1.62],[4.96,2.0],[4.99,1.89],[4.99,1.04],[5.0,0.86],[5.01,1.8],[5.02,1.72],[5.03,1.12],[5.05,0.76],[5.06,2.05],[5.07,2.01],[5.08,1.69],[5.08,1.24],[5.09,1.01],
  [5.67,3.51],[5.7,3.23],[5.5,2.27],[6.06,2.24],[6.27,2.22],[6.45,2.14],[6.68,2.24],[6.75,2.37],[6.81,2.19],[6.98,1.95],[6.62,2.08],[6.68,2.04],[6.74,1.99],[6.79,1.87],[5.17,2.09],[5.31,2.08],[5.21,1.91],[4.98,1.89],[5.11,1.91],[5.11,1.84],[4.99,1.8],[5.07,1.7],[4.95,1.63],[5.13,1.61],[5.11,1.48],[5.14,1.5],[5.17,1.4],[5.2,1.35],[5.23,1.32],[5.29,1.54],[5.3,1.36],[5.36,1.33],[5.36,1.23],[5.47,1.27],[5.42,1.53],[5.48,1.55],[5.49,1.49],[5.65,2.0],[5.67,1.93],[5.68,1.86],[5.72,1.99],[5.73,1.77],[5.88,1.98],[5.88,1.84],[5.79,1.67],[5.83,1.66],[5.87,1.65],[5.89,1.62],[5.97,1.7],[6.03,1.66],[6.14,1.71],[6.18,1.71],[6.18,1.62],[5.9,1.48],[6.01,1.45],[6.11,1.45],[6.18,1.45],[5.62,1.56],[5.64,1.56],[5.62,1.49],[5.68,1.48],[5.65,1.42],[5.63,1.38],[5.8,1.43],[5.82,1.41],[6.05,1.38],[6.02,1.32],[6.16,1.26],[6.18,1.24],[6.06,1.22],[6.14,1.14],[6.31,1.4],[6.38,1.36],[6.46,1.33],[6.52,1.5],[6.6,1.4],[6.59,1.36],[6.65,1.45],[6.71,1.38],[6.67,1.61],[6.8,1.42],[6.82,1.33],[6.84,1.55],[6.89,1.31],[6.88,1.24],[6.77,1.29],[6.77,1.21],[6.49,1.21],[6.51,1.19],[6.6,1.22],[6.62,1.15],[6.63,1.12],[6.4,1.23],[6.38,1.05],[6.26,0.97],[6.33,0.88],[6.22,0.85],[6.13,0.82],[6.06,0.91],[5.94,1.2],[5.86,1.11],[5.89,1.08],[5.86,0.98],[5.88,0.96],[5.68,1.0],[5.68,0.96],[5.65,1.08],[5.54,1.1],[5.45,1.1],[5.44,1.04],[5.47,0.97],[5.39,0.98],[5.23,0.96],[5.1,1.01],[5.08,0.84],[5.05,0.79],[5.07,0.93],[5.0,1.05],[5.44,0.73],[5.77,0.77],[5.93,0.67],[5.94,0.7],[6.52,0.74],[6.75,0.81],[6.6,0.87],[6.67,0.88],[6.91,0.68]];

const blueD = [[3.01,0.23],[3.01,0.12],[3.02,0.34],[3.04,0.19],[3.06,0.39],[3.07,0.06],[3.08,0.28],[3.11,0.14],[3.12,0.42],[3.14,0.03],[3.15,0.23],[3.17,0.32],[3.19,0.11],[3.21,0.26],[3.23,0.17],[3.24,0.32],[3.26,0.06],[3.28,0.22],[3.3,0.29],[3.31,0.54],[3.33,0.49],[3.36,0.48],[3.33,0.12],[3.36,0.02],[3.38,0.23],[3.39,0.29],[3.42,0.15],[3.44,0.08],[3.46,0.25],[3.48,0.02],[3.5,0.19],[3.52,0.31],[3.54,0.12],[3.56,0.22],[3.58,0.06],[3.61,0.4],[3.63,0.26],[3.65,0.15],[3.67,0.03],[3.69,0.29],[3.72,0.12],[3.73,0.02],[3.76,0.59],[3.77,0.23],[3.79,0.09],[3.81,0.36],[3.83,0.19],[3.86,0.43],[3.88,0.25],[3.89,0.11],[3.92,0.39],[3.94,0.29],[3.96,0.19],[3.98,0.03],[4.0,0.51],[4.01,0.25],[4.03,0.39],[4.05,0.14],[4.07,0.31],[4.09,0.45],[4.11,0.2],[4.14,0.59],[4.15,0.36],[4.17,0.12],[4.19,0.29],[4.22,0.48],[4.24,0.2],[4.26,0.48],[4.28,0.32],[4.31,0.12],[4.33,0.26],[4.35,0.36],[4.37,0.19],[4.39,0.29],[4.42,0.34],[4.44,0.12],[4.47,0.23],[4.49,0.4],[4.5,0.05],[4.52,0.46],[4.54,0.29],[4.56,0.19],[4.58,0.39],[4.61,0.59],[4.63,0.23],[4.64,0.48],[4.66,0.31],[4.68,0.14],[4.7,0.4],[4.72,0.23],[4.74,0.34],[4.76,0.17],[4.78,0.37],[4.81,0.26],[4.83,0.12],[4.85,0.32],[4.86,0.2],[4.88,0.37],[4.9,0.28],[4.92,0.09],[4.94,0.31],[4.97,0.06],[4.99,0.22],[5.02,0.31],[5.06,0.46],[5.09,0.62],
  [3.05,0.2],[3.1,0.33],[3.18,0.2],[3.27,0.15],[3.35,0.28],[3.45,0.35],[3.55,0.18],[3.64,0.33],[3.74,0.22],[3.85,0.3],[3.95,0.38],[4.04,0.22],[4.13,0.33],[4.2,0.18],[4.3,0.4],[4.4,0.22],[4.48,0.33],[4.57,0.26],[4.67,0.2],[4.76,0.28],[4.84,0.22],[4.93,0.38],
  [4.96,0.15],[5.01,0.31],[5.05,0.25],[5.08,0.47],[5.11,0.56],[5.09,0.36],[5.16,0.43],[5.18,0.48],[5.13,0.19],[5.2,0.22],[5.24,0.28],[5.25,0.56],[5.27,0.49],[5.29,0.36],[5.29,0.15],[5.35,0.19],[5.38,0.36],[5.43,0.25],[5.47,0.37],[5.51,0.37],[5.54,0.26],[5.62,0.36],[5.63,0.25],[5.68,0.31],[5.69,0.45],[5.73,0.34],[5.77,0.4],[5.79,0.12],[5.82,0.46],[5.85,0.26],[5.88,0.26],[5.93,0.46],[5.94,0.37],[5.99,0.46],[6.01,0.12],[6.05,0.31],[6.06,0.45],[6.12,0.12],[6.15,0.36],[6.19,0.36],[6.23,0.23],[6.24,0.63],[6.29,0.49],[6.33,0.39],[6.4,0.28],[6.41,0.12],[6.43,0.59],[6.49,0.62],[6.5,0.56],[6.45,0.36],[6.55,0.31],[6.6,0.29],[6.63,0.17],[6.69,0.4],[6.76,0.34],[6.77,0.23],[6.81,0.12],[6.86,0.46],[6.88,0.37],[6.84,0.31],[6.44,0.22],[6.38,0.12],[5.9,0.19]];

// y-axis ranges / tick steps per panel
const yMaxes = [14, 22, 9, 4];
const ySteps = [2, 5, 1, 0.5];
const yTitles = ['Droplet Intensity (10\u00b3 counts)', 'Droplet intensity (10\u00b3 counts)', 'Droplet Intensity (10\u00b3 counts)', 'Droplet Intensity (10\u00b3 counts)'];
const xTitle = 'Droplet diameter (\u00b5m)';

// frame round the plot area plus inside tick marks
const framePlugin = {
  id: 'frame',
  beforeDatasetsDraw(chart) {
    const { ctx, chartArea: a, scales } = chart;
    ctx.save();
    ctx.strokeStyle = '#404040';
    ctx.lineWidth = 2;
    ctx.strokeRect(a.left, a.top, a.right - a.left, a.bottom - a.top);
    ctx.lineWidth = 1.5;
    ctx.beginPath();
    scales.x.ticks.forEach(t => {
      const px = Math.round(scales.x.getPixelForValue(t.value)) + 0.5;
      ctx.moveTo(px, a.bottom);
      ctx.lineTo(px, a.bottom - 5);
    });
    scales.y.ticks.forEach(t => {
      const py = Math.round(scales.y.getPixelForValue(t.value)) + 0.5;
      ctx.moveTo(a.left, py);
      ctx.lineTo(a.left + 5, py);
    });
    ctx.stroke();
    ctx.restore();
  }
};

Chart.defaults.font.family = "'Open Sans', sans-serif";
Chart.defaults.color = '#595959';

function makePanel(id, i, green, blue, lay) {
  return new Chart(document.getElementById(id), {
    type: 'scatter',
    data: {
      datasets: [
        {
          label: '1+ dNTP', data: green, order: 0, clip: false,
          pointRadius: 3.7, pointHoverRadius: 3.7, pointBorderWidth: 0,
          backgroundColor: '#70AD47', borderColor: '#70AD47',
          pointBackgroundColor: '#70AD47'
        },
        {
          label: 'No dNTP', data: blue, order: 1, clip: false,
          pointRadius: 4.4, pointHoverRadius: 4.4, pointBorderWidth: 1.3,
          backgroundColor: 'rgba(0,0,0,0)', borderColor: '#4472C4',
          pointBackgroundColor: 'rgba(0,0,0,0)', pointBorderColor: '#4472C4'
        }
      ]
    },
    options: {
      responsive: false,
      animation: false,
      layout: { padding: { left: 0, top: lay.top, right: lay.right, bottom: 0 } },
      plugins: { legend: { display: false }, tooltip: { enabled: false } },
      scales: {
        x: {
          type: 'linear', min: 3, max: 7,
          grid: { display: false, drawTicks: false },
          border: { display: false },
          ticks: {
            stepSize: 0.5, padding: 14, color: '#595959',
            font: { size: 14, weight: 'bold' },
            callback: v => String(+v.toFixed(2))
          },
          title: {
            display: true, text: xTitle + lay.xPad, color: '#595959',
            font: { size: 19, weight: 'bold' },
            padding: { top: 0, bottom: lay.xTitleBottom }
          },
          afterFit: s => { s.height = lay.xHeight; s.paddingLeft = 0; s.paddingRight = 0; }
        },
        y: {
          type: 'linear', min: 0, max: yMaxes[i],
          grid: { display: false, drawTicks: false },
          border: { display: false },
          ticks: {
            stepSize: ySteps[i], includeBounds: false, padding: 16, color: '#595959',
            font: { size: 14, weight: 'bold' },
            callback: v => String(+v.toFixed(2))
          },
          title: {
            display: true, text: yTitles[i] + lay.yPad, color: '#595959',
            font: { size: 19, weight: 'bold' },
            padding: { top: lay.yTitleLeft, bottom: 0 }
          },
          afterFit: s => { s.width = lay.yWidth; s.paddingTop = 0; s.paddingBottom = 0; }
        }
      }
    },
    plugins: [framePlugin]
  });
}

const en = '\u2002';
makePanel('cA', 0, greenA, blueA, { top: 15, right: 3, xHeight: 72, yWidth: 118, yTitleLeft: 35, xTitleBottom: 8, yPad: en.repeat(5), xPad: '' });
makePanel('cB', 1, greenB, blueB, { top: 15, right: 3, xHeight: 75, yWidth: 117, yTitleLeft: 40, xTitleBottom: 8, yPad: en.repeat(4), xPad: en.repeat(2) });
makePanel('cC', 2, greenC, blueC, { top: 15, right: 3, xHeight: 72, yWidth: 116, yTitleLeft: 41, xTitleBottom: 8, yPad: '', xPad: '' });
makePanel('cD', 3, greenD, blueD, { top: 15, right: 3, xHeight: 73, yWidth: 117, yTitleLeft: 37, xTitleBottom: 1, yPad: en.repeat(2), xPad: en.repeat(3) });
</script>
</body>
</html>
